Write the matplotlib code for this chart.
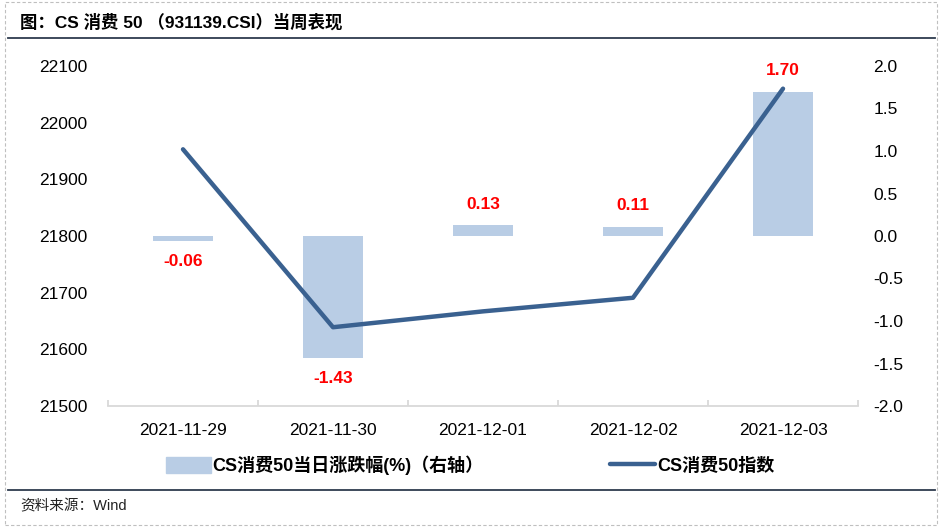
import matplotlib
matplotlib.use("Agg")
import matplotlib.pyplot as plt
from matplotlib.patches import Rectangle
from matplotlib.lines import Line2D
import numpy as np

plt.rcParams['font.family'] = ['Liberation Sans', 'Noto Sans CJK SC', 'DejaVu Sans']
plt.rcParams['axes.unicode_minus'] = False

# data
dates = ['2021-11-29', '2021-11-30', '2021-12-01', '2021-12-02', '2021-12-03']
pct_chg = [-0.06, -1.43, 0.13, 0.11, 1.70]
index_close = [21953, 21639, 21667, 21691, 22060]

bar_color = '#B9CDE5'
line_color = '#3A6190'
grey = '#D9D9D9'

fig = plt.figure(figsize=(9.41, 5.30), dpi=100)
ax = fig.add_axes([108/941, 1-406/530, 750/941, 340/530])
ax2 = ax.twinx()

x = np.arange(len(dates))

# bars on right axis
ax2.bar(x, pct_chg, width=0.4, color=bar_color, label='CS消费50当日涨跌幅(%)（右轴）')
for xi, v in zip(x, pct_chg):
    off = 15 if v >= 0 else -15
    ax2.annotate(f'{v:.2f}', (xi, v), xytext=(0, off), textcoords='offset points',
                 ha='center', va='center', color='#FF0000', fontsize=12.5, fontweight='bold')
ax2.set_ylim(-2.0, 2.0)
ax2.set_yticks(np.arange(-2.0, 2.01, 0.5))
ax2.set_yticklabels([f'{t:.1f}' for t in np.arange(-2.0, 2.01, 0.5)])

# line on left axis
ax.plot(x, index_close, color=line_color, lw=3.2, solid_capstyle='round',
        solid_joinstyle='round', label='CS消费50指数')
ax.set_ylim(21500, 22100)
ax.set_yticks(range(21500, 22101, 100))
ax.set_xlim(-0.5, len(dates) - 0.5)
ax.set_xticks(x)
ax.set_xticklabels(dates)
ax.set_xticks(np.arange(-0.5, len(dates), 1), minor=True)

ax.set_zorder(ax2.get_zorder() + 1)
ax.patch.set_visible(False)

for a in (ax, ax2):
    for s in ('top', 'left', 'right'):
        a.spines[s].set_visible(False)
ax2.spines['bottom'].set_visible(False)
ax.spines['bottom'].set_color(grey)
ax.spines['bottom'].set_linewidth(1.3)

ax.tick_params(axis='x', which='major', length=0, pad=12, labelsize=12.5, colors='black')
ax.tick_params(axis='x', which='minor', direction='in', length=4, width=1.3, color=grey)
ax.tick_params(axis='y', length=0, pad=15, labelsize=12.5)
ax2.tick_params(axis='y', length=0, pad=11, labelsize=12.5)

# legend
handles = [Rectangle((0, 0), 1, 1, color=bar_color),
           Line2D([0], [0], color=line_color, lw=3.2, solid_capstyle='round')]
labels = ['CS消费50当日涨跌幅(%)（右轴）', 'CS消费50指数']
fig.legend(handles, labels, loc='center', bbox_to_anchor=(470/941, 1-465/530), ncol=2,
           frameon=False, prop={'weight': 'bold', 'size': 13}, handlelength=2.5,
           handleheight=1.0, handletextpad=0.1, columnspacing=7.0)

# title, source and frame
fig.text(20/941, 1-22/530, '图：CS 消费 50 （931139.CSI）当周表现', fontsize=12.5,
         fontweight='bold', ha='left', va='center')
fig.text(20/941, 1-506/530, '资料来源：Wind', fontsize=10.5, ha='left', va='center', color='#222222')
fig.add_artist(Line2D([8/941, 935/941], [1-38/530, 1-38/530], color='#2E3B4E', lw=1.3))
fig.add_artist(Line2D([8/941, 935/941], [1-490/530, 1-490/530], color='#2E3B4E', lw=1.3))
fig.add_artist(Rectangle((5/941, 5/530), 932/941, 523/530, fill=False,
                         edgecolor='#BFBFBF', lw=0.8, linestyle=(0, (3, 2))))

fig.savefig('out.png', dpi=100)
